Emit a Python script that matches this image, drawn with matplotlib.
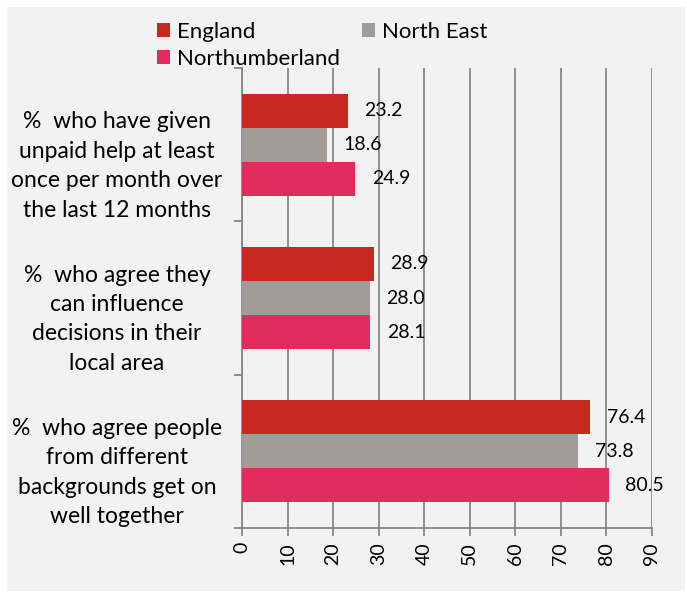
import matplotlib
matplotlib.use("Agg")
import matplotlib.pyplot as plt
from matplotlib.patches import Rectangle
from matplotlib.transforms import ScaledTranslation
import numpy as np

plt.rcParams['font.family'] = ['Lato', 'DejaVu Sans']

# Data
categories = ["%  who have given\nunpaid help at least\nonce per month over\nthe last 12 months",
              "%  who agree they\ncan influence\ndecisions in their\nlocal area",
              "%  who agree people\nfrom different\nbackgrounds get on\nwell together"]
series_names = ["England", "North East", "Northumberland"]
england = [23.2, 28.9, 76.4]
north_east = [18.6, 28.0, 73.8]
northumberland = [24.9, 28.1, 80.5]
colors = ["#c8281f", "#a29b97", "#e02d5c"]
xticks = list(range(0, 100, 10))

bg = "#f2f2f2"
grid_c = "#868686"
fig = plt.figure(figsize=(6.87, 5.92), dpi=100, facecolor="white")
fig.patches.append(Rectangle((7 / 687, 1 / 592), 678 / 687, 584 / 592,
                             transform=fig.transFigure, facecolor=bg,
                             edgecolor="none", zorder=-10))
ax = fig.add_axes([242 / 687, 1 - 528 / 592, 410 / 687, 460 / 592])
ax.set_facecolor(bg)

y = np.arange(len(categories))
h = 0.222
bars = []
for i, (vals, name) in enumerate(zip([england, north_east, northumberland], series_names)):
    b = ax.barh(y + (i - 1) * h, vals, height=h, color=colors[i], label=name, zorder=3)
    bars.append(b)
    for yy, v in zip(y + (i - 1) * h, vals):
        ax.annotate(f"{v:.1f}", (v, yy), xytext=(12, 0), textcoords="offset points",
                    va="center", ha="left", fontsize=14, color="black", zorder=4)

ax.set_xlim(0, 90)
ax.set_ylim(2.5, -0.5)
ax.set_xticks(xticks)
ax.set_xticklabels([str(t) for t in xticks], rotation=90, fontsize=14)
ax.set_yticks(y)
ax.set_yticklabels(categories, fontsize=16.5, multialignment="center", ha="center",
                   linespacing=1.5)
ax.tick_params(axis="y", which="major", length=0, pad=90)
shift = ScaledTranslation(0, -15 / 100, fig.dpi_scale_trans)
for lbl in ax.get_yticklabels():
    lbl.set_transform(lbl.get_transform() + shift)
ax.set_yticks([-0.5, 0.5, 1.5, 2.5], minor=True)
ax.tick_params(axis="y", which="minor", length=6, color=grid_c, width=1.3)
ax.tick_params(axis="x", length=6, color=grid_c, width=1.3, pad=4)
ax.grid(axis="x", color=grid_c, linewidth=1.3, zorder=0)
for s in ["top", "right"]:
    ax.spines[s].set_visible(False)
for s in ["left", "bottom"]:
    ax.spines[s].set_color(grid_c)
    ax.spines[s].set_linewidth(1.3)

handles = [bars[0], bars[2], bars[1]]
labels = [series_names[0], series_names[2], series_names[1]]
fig.legend(handles, labels, ncol=2, loc="upper left", bbox_to_anchor=(157 / 687, 1 - 22 / 592),
           frameon=False, fontsize=16, handlelength=0.6, handleheight=0.6,
           handletextpad=0.3, labelspacing=0.3, columnspacing=0.97, borderpad=0, borderaxespad=0)

fig.savefig("out.png", dpi=100, facecolor="white")
